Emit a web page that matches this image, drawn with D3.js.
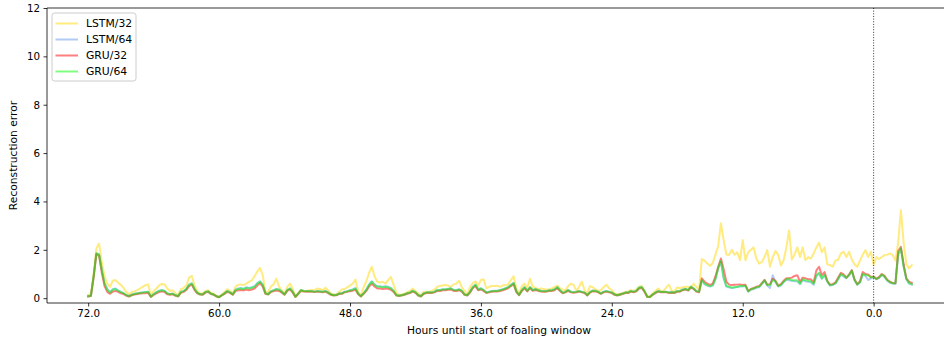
<!DOCTYPE html>
<html>
<head>
<meta charset="utf-8">
<script src="https://cdn.jsdelivr.net/npm/d3@7/dist/d3.min.js"></script>
<style>
  html, body { margin: 0; padding: 0; background: #fff; }
  svg { display: block; font-family: "DejaVu Sans", sans-serif; }
</style>
</head>
<body>
<svg id="chart" width="944" height="338"></svg>
<script>
// Reconstruction error per model, sampled every 15 minutes from 72 h before the foaling window
const startHour = 72;
const stepHour = 0.25;

const seriesNames = ["LSTM/32", "LSTM/64", "GRU/32", "GRU/64"];
const seriesColors = ["#FFD700", "#6495ED", "#FF0000", "#00FF00"];

const lstm32 = [
  0.14,0.15,1.0,2.05,2.26,1.5,0.9,0.6,0.47,0.72,
  0.75,0.63,0.55,0.42,0.25,0.16,0.26,0.28,0.33,0.4,
  0.47,0.54,0.57,0.12,0.3,0.4,0.53,0.59,0.58,0.4,
  0.3,0.33,0.2,0.14,0.37,0.43,0.53,0.85,0.92,0.53,
  0.29,0.2,0.19,0.3,0.33,0.22,0.18,0.1,0.06,0.15,
  0.25,0.37,0.3,0.2,0.47,0.55,0.57,0.54,0.6,0.68,
  0.74,0.9,1.1,1.25,0.95,0.25,0.26,0.48,0.58,0.81,
  0.47,0.33,0.2,0.47,0.6,0.4,0.08,0.22,0.34,0.31,
  0.3,0.33,0.33,0.33,0.4,0.38,0.33,0.43,0.33,0.18,
  0.15,0.16,0.26,0.36,0.38,0.45,0.52,0.6,0.77,0.25,
  0.12,0.45,0.7,1.05,1.3,0.9,0.68,0.65,0.68,0.6,
  0.75,0.88,0.55,0.22,0.14,0.15,0.19,0.25,0.3,0.4,
  0.3,0.2,0.12,0.26,0.27,0.28,0.3,0.36,0.47,0.5,
  0.52,0.54,0.52,0.47,0.57,0.6,0.72,0.45,0.3,0.15,
  0.45,0.62,0.7,0.52,0.75,0.78,0.4,0.47,0.5,0.5,
  0.51,0.47,0.52,0.54,0.57,0.75,0.9,0.4,0.2,0.5,
  0.6,0.42,0.8,0.47,0.43,0.37,0.4,0.38,0.36,0.37,
  0.4,0.47,0.52,0.42,0.35,0.33,0.5,0.6,0.55,0.3,
  0.47,0.68,0.33,0.2,0.5,0.45,0.37,0.3,0.33,0.45,
  0.55,0.42,0.33,0.2,0.15,0.18,0.22,0.26,0.28,0.33,
  0.3,0.35,0.47,0.5,0.3,0.08,0.07,0.2,0.3,0.4,
  0.29,0.3,0.45,0.55,0.3,0.29,0.45,0.4,0.45,0.47,
  0.47,0.42,0.6,0.47,0.35,1.62,1.55,1.43,1.34,1.45,
  1.8,2.15,3.1,2.4,1.8,1.8,2.0,1.8,1.9,1.57,
  2.4,1.57,1.9,2.0,2.1,1.64,1.43,1.5,1.7,1.99,
  1.3,1.7,1.95,1.8,1.35,1.57,2.1,2.8,1.6,1.8,
  2.1,1.7,2.1,1.57,1.7,1.64,1.85,2.1,2.3,1.9,
  2.1,1.4,1.37,1.3,1.55,1.6,1.85,1.92,1.7,1.92,
  1.6,1.4,1.3,1.55,1.8,1.99,1.7,1.92,1.37,1.7,
  1.62,1.7,1.78,1.8,1.85,1.78,1.55,2.3,3.64,2.3,
  1.4,1.23,1.37
];

const lstm64 = [
  0.09,0.11,0.92,1.86,1.82,1.18,0.62,0.38,0.25,0.37,
  0.4,0.32,0.26,0.21,0.13,0.09,0.15,0.18,0.2,0.22,
  0.24,0.26,0.27,0.07,0.17,0.25,0.31,0.34,0.31,0.2,
  0.17,0.19,0.13,0.09,0.27,0.3,0.39,0.57,0.62,0.39,
  0.23,0.17,0.16,0.26,0.29,0.19,0.16,0.09,0.05,0.13,
  0.21,0.3,0.25,0.16,0.35,0.4,0.42,0.39,0.45,0.42,
  0.45,0.49,0.62,0.7,0.57,0.21,0.17,0.29,0.33,0.38,
  0.36,0.27,0.16,0.34,0.41,0.27,0.07,0.19,0.34,0.31,
  0.3,0.3,0.3,0.27,0.3,0.29,0.27,0.3,0.24,0.16,
  0.13,0.14,0.2,0.2,0.27,0.29,0.33,0.36,0.42,0.19,
  0.09,0.21,0.36,0.57,0.7,0.57,0.49,0.49,0.47,0.49,
  0.47,0.42,0.31,0.13,0.11,0.13,0.16,0.21,0.24,0.31,
  0.25,0.13,0.09,0.2,0.24,0.24,0.24,0.27,0.34,0.34,
  0.37,0.37,0.39,0.41,0.34,0.34,0.37,0.31,0.16,0.13,
  0.27,0.46,0.56,0.37,0.41,0.34,0.24,0.27,0.3,0.31,
  0.31,0.34,0.37,0.41,0.46,0.55,0.63,0.29,0.14,0.34,
  0.46,0.31,0.46,0.34,0.38,0.34,0.31,0.3,0.3,0.33,
  0.34,0.37,0.46,0.34,0.23,0.27,0.34,0.27,0.25,0.27,
  0.3,0.27,0.24,0.13,0.26,0.32,0.31,0.27,0.2,0.27,
  0.3,0.27,0.24,0.16,0.13,0.16,0.2,0.24,0.24,0.3,
  0.27,0.31,0.44,0.46,0.29,0.07,0.06,0.16,0.24,0.3,
  0.27,0.27,0.27,0.24,0.25,0.24,0.3,0.3,0.36,0.39,
  0.34,0.48,0.41,0.3,0.27,0.74,0.58,0.52,0.48,0.52,
  0.78,1.22,1.52,0.82,0.48,0.45,0.42,0.44,0.46,0.48,
  0.48,0.5,0.27,0.35,0.38,0.43,0.45,0.58,0.72,0.52,
  0.42,0.95,0.66,0.48,0.52,0.66,0.76,0.74,0.72,0.7,
  0.7,0.58,0.75,0.7,0.68,0.66,0.55,0.92,1.02,0.8,
  0.95,0.68,0.52,0.54,0.6,0.78,0.98,0.9,0.82,0.94,
  1.12,0.73,0.56,0.64,0.98,0.92,0.75,0.82,0.86,0.78,
  0.83,0.96,0.88,0.72,0.64,0.6,0.6,1.78,2.04,1.32,
  0.77,0.6,0.56
];

const gru32 = [
  0.07,0.09,0.85,1.82,1.75,1.05,0.5,0.26,0.18,0.27,
  0.3,0.26,0.2,0.17,0.1,0.07,0.12,0.15,0.17,0.19,
  0.2,0.2,0.22,0.05,0.13,0.2,0.25,0.28,0.26,0.16,
  0.14,0.16,0.1,0.07,0.22,0.26,0.34,0.5,0.56,0.33,
  0.2,0.15,0.14,0.23,0.26,0.17,0.14,0.07,0.04,0.11,
  0.18,0.26,0.22,0.14,0.29,0.33,0.34,0.32,0.36,0.33,
  0.36,0.4,0.52,0.62,0.48,0.18,0.15,0.25,0.29,0.32,
  0.3,0.23,0.14,0.3,0.36,0.23,0.05,0.17,0.3,0.28,
  0.27,0.27,0.27,0.25,0.27,0.26,0.24,0.27,0.21,0.14,
  0.11,0.12,0.17,0.18,0.24,0.26,0.29,0.31,0.35,0.16,
  0.07,0.18,0.3,0.48,0.6,0.48,0.4,0.4,0.38,0.4,
  0.39,0.35,0.26,0.11,0.09,0.11,0.14,0.18,0.21,0.27,
  0.22,0.11,0.07,0.17,0.21,0.21,0.21,0.24,0.3,0.3,
  0.33,0.33,0.35,0.36,0.3,0.3,0.33,0.27,0.14,0.11,
  0.23,0.41,0.5,0.33,0.36,0.3,0.21,0.24,0.27,0.28,
  0.28,0.3,0.33,0.37,0.41,0.5,0.58,0.25,0.12,0.3,
  0.41,0.28,0.42,0.3,0.34,0.3,0.28,0.27,0.27,0.3,
  0.3,0.33,0.41,0.3,0.2,0.24,0.3,0.24,0.22,0.24,
  0.27,0.24,0.21,0.11,0.23,0.29,0.28,0.24,0.18,0.24,
  0.27,0.24,0.21,0.14,0.11,0.14,0.17,0.21,0.21,0.27,
  0.24,0.28,0.4,0.42,0.26,0.05,0.05,0.14,0.21,0.27,
  0.24,0.24,0.24,0.21,0.22,0.21,0.27,0.27,0.33,0.36,
  0.31,0.44,0.38,0.27,0.24,0.82,0.68,0.6,0.55,0.6,
  0.9,1.3,1.64,1.2,0.68,0.56,0.54,0.55,0.56,0.57,
  0.55,0.55,0.3,0.38,0.42,0.47,0.5,0.62,0.76,0.56,
  0.58,0.8,0.72,0.52,0.58,0.72,0.82,0.82,0.85,0.92,
  0.95,0.68,0.85,0.82,0.78,0.78,0.65,1.15,1.3,0.95,
  1.08,0.72,0.56,0.58,0.65,0.85,1.05,0.98,0.85,0.98,
  1.16,0.78,0.58,0.7,1.08,1.0,0.98,0.88,0.9,0.8,
  0.88,1.0,0.92,0.76,0.68,0.63,0.62,1.95,2.12,1.4,
  0.82,0.68,0.63
];

const gru64 = [
  0.08,0.1,0.9,1.85,1.8,1.15,0.6,0.35,0.23,0.35,
  0.38,0.3,0.25,0.2,0.12,0.08,0.14,0.17,0.19,0.21,
  0.23,0.25,0.26,0.06,0.16,0.24,0.3,0.33,0.3,0.19,
  0.16,0.18,0.12,0.08,0.26,0.29,0.38,0.55,0.6,0.38,
  0.22,0.16,0.15,0.25,0.28,0.18,0.15,0.08,0.04,0.12,
  0.2,0.29,0.24,0.15,0.33,0.38,0.4,0.37,0.43,0.4,
  0.43,0.47,0.6,0.68,0.55,0.2,0.16,0.28,0.32,0.37,
  0.35,0.26,0.15,0.33,0.4,0.26,0.06,0.18,0.33,0.3,
  0.29,0.29,0.29,0.26,0.29,0.28,0.26,0.29,0.23,0.15,
  0.12,0.13,0.19,0.19,0.26,0.28,0.32,0.35,0.4,0.18,
  0.08,0.2,0.35,0.55,0.68,0.55,0.47,0.47,0.45,0.47,
  0.45,0.4,0.3,0.12,0.1,0.12,0.15,0.2,0.23,0.3,
  0.24,0.12,0.08,0.19,0.23,0.23,0.23,0.26,0.33,0.33,
  0.36,0.36,0.38,0.4,0.33,0.33,0.36,0.3,0.15,0.12,
  0.26,0.45,0.55,0.36,0.4,0.33,0.23,0.26,0.29,0.3,
  0.3,0.33,0.36,0.4,0.45,0.54,0.62,0.28,0.13,0.33,
  0.45,0.3,0.45,0.33,0.37,0.33,0.3,0.29,0.29,0.32,
  0.33,0.36,0.45,0.33,0.22,0.26,0.33,0.26,0.24,0.26,
  0.29,0.26,0.23,0.12,0.25,0.31,0.3,0.26,0.19,0.26,
  0.29,0.26,0.23,0.15,0.12,0.15,0.19,0.23,0.23,0.29,
  0.26,0.3,0.43,0.45,0.28,0.06,0.05,0.15,0.23,0.29,
  0.26,0.26,0.26,0.23,0.24,0.23,0.29,0.29,0.35,0.38,
  0.33,0.47,0.4,0.29,0.26,0.75,0.6,0.54,0.5,0.54,
  0.8,1.25,1.55,0.85,0.5,0.47,0.43,0.45,0.47,0.5,
  0.5,0.52,0.28,0.37,0.4,0.45,0.47,0.6,0.74,0.54,
  0.54,0.75,0.7,0.5,0.55,0.68,0.78,0.8,0.74,0.74,
  0.74,0.6,0.78,0.74,0.72,0.7,0.6,0.95,1.05,0.82,
  0.97,0.7,0.54,0.56,0.62,0.8,1.0,0.93,0.85,0.96,
  1.14,0.75,0.57,0.66,1.0,0.95,0.95,0.85,0.88,0.8,
  0.85,0.98,0.9,0.74,0.66,0.62,0.62,1.85,2.06,1.3,
  0.8,0.62,0.58
];

const seriesValues = [lstm32, lstm64, gru32, gru64];

const xTickValues = [72, 60, 48, 36, 24, 12, 0];
const xTickLabels = ["72.0", "60.0", "48.0", "36.0", "24.0", "12.0", "0.0"];
const yTickValues = [0, 2, 4, 6, 8, 10, 12];
const yTickLabels = ["0", "2", "4", "6", "8", "10", "12"];

const xLabel = "Hours until start of foaling window";
const yLabel = "Reconstruction error";
const markerHour = 0;

// ---- layout ----
const svg = d3.select("#chart");
const plot = { left: 47, top: 8, right: 953, bottom: 303 };
const nPts = lstm32.length;
const hours = d3.range(nPts).map(i => startHour - stepHour * i);
const firstH = hours[0], lastH = hours[nPts - 1];
const pad = (firstH - lastH) * 0.05;

const x = d3.scaleLinear().domain([firstH + pad, lastH - pad]).range([plot.left, plot.right]);
const y = d3.scaleLinear().domain([-0.2, 12]).range([plot.bottom, plot.top]);

svg.append("defs").append("clipPath").attr("id", "plotclip")
  .append("rect").attr("x", plot.left).attr("y", plot.top)
  .attr("width", plot.right - plot.left).attr("height", plot.bottom - plot.top);

// series lines
const line = d3.line().x((d, i) => x(hours[i])).y(d => y(d));
const linesG = svg.append("g").attr("clip-path", "url(#plotclip)");
seriesValues.forEach((vals, k) => {
  linesG.append("path")
    .datum(vals)
    .attr("d", line)
    .attr("fill", "none")
    .attr("stroke", seriesColors[k])
    .attr("stroke-opacity", 0.5)
    .attr("stroke-width", 2)
    .attr("stroke-linejoin", "round")
    .attr("stroke-linecap", "square");
});

// dotted marker at the start of the window
svg.append("line")
  .attr("x1", x(markerHour)).attr("x2", x(markerHour))
  .attr("y1", plot.top).attr("y2", plot.bottom)
  .attr("stroke", "#333").attr("stroke-width", 1)
  .attr("stroke-dasharray", "1,1.65");

// axes
const xAxis = d3.axisBottom(x)
  .tickValues(xTickValues)
  .tickFormat((d, i) => xTickLabels[i])
  .tickSize(3.5).tickSizeOuter(0).tickPadding(3.5);
const yAxis = d3.axisLeft(y)
  .tickValues(yTickValues)
  .tickFormat((d, i) => yTickLabels[i])
  .tickSize(3.5).tickSizeOuter(0).tickPadding(3.5);

const gx = svg.append("g").attr("transform", `translate(0,${plot.bottom})`).call(xAxis);
const gy = svg.append("g").attr("transform", `translate(${plot.left},0)`).call(yAxis);
[gx, gy].forEach(g => {
  g.select(".domain").remove();
  g.selectAll(".tick line").attr("stroke", "#000").attr("stroke-width", 0.8);
  g.selectAll(".tick text").attr("fill", "#000").style("font-size", "10.3px")
    .style("font-family", "'DejaVu Sans', sans-serif");
});

// spines
const spine = (x1, y1, x2, y2) => svg.append("line")
  .attr("x1", x1).attr("y1", y1).attr("x2", x2).attr("y2", y2)
  .attr("stroke", "#000").attr("stroke-width", 0.8);
spine(plot.left, plot.top, plot.left, plot.bottom);
spine(plot.left, plot.bottom, plot.right, plot.bottom);
spine(plot.left, plot.top, plot.right, plot.top);
spine(plot.right, plot.top, plot.right, plot.bottom);

// axis titles
svg.append("text")
  .attr("x", 499).attr("y", 334)
  .attr("text-anchor", "middle").style("font-size", "10.7px").attr("fill", "#000")
  .text(xLabel);
svg.append("text")
  .attr("transform", `translate(17,${(plot.top + plot.bottom) / 2}) rotate(-90)`)
  .attr("text-anchor", "middle").style("font-size", "10.7px").attr("fill", "#000")
  .text(yLabel);

// legend
const legend = svg.append("g").attr("transform", "translate(52,13)");
legend.append("rect")
  .attr("x", 0).attr("y", 0).attr("width", 84).attr("height", 68)
  .attr("rx", 2.5).attr("ry", 2.5)
  .attr("fill", "#fff").attr("fill-opacity", 0.8)
  .attr("stroke", "#cccccc").attr("stroke-width", 1);
seriesNames.forEach((name, k) => {
  const cy = 10.5 + k * 16;
  legend.append("line")
    .attr("x1", 3.5).attr("x2", 26).attr("y1", cy).attr("y2", cy)
    .attr("stroke", seriesColors[k]).attr("stroke-opacity", 0.5)
    .attr("stroke-width", 2);
  legend.append("text")
    .attr("x", 34).attr("y", cy + 3.8)
    .style("font-size", "10.8px").attr("fill", "#000")
    .text(name);
});
</script>
</body>
</html>
